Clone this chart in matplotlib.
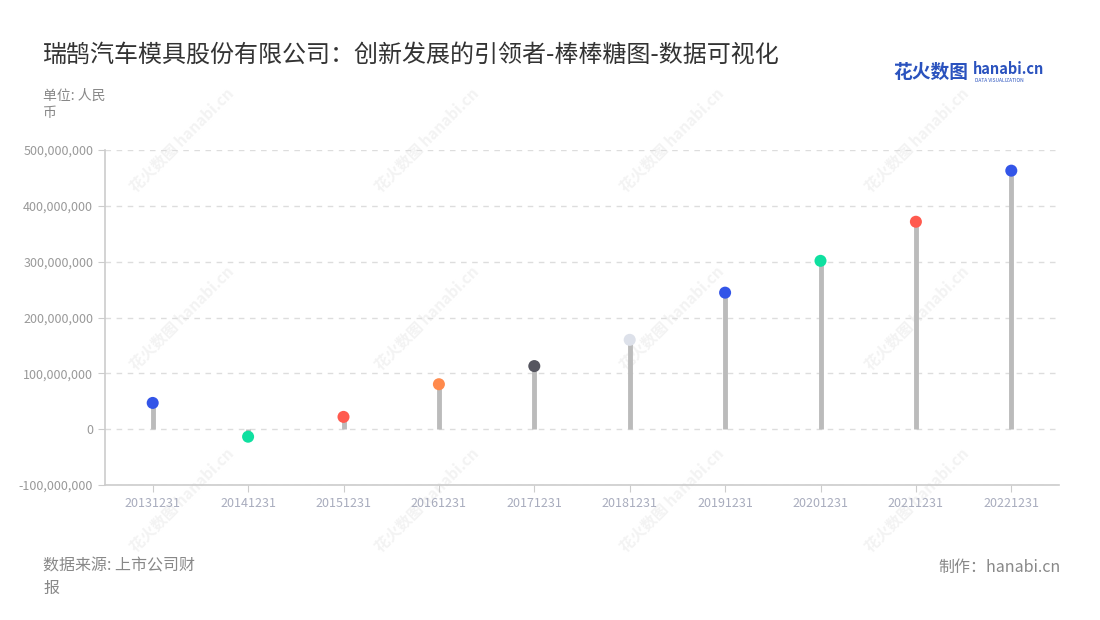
import matplotlib
matplotlib.use("Agg")
import matplotlib.pyplot as plt
from matplotlib.ticker import FuncFormatter, MultipleLocator

plt.rcParams['font.family'] = ['Noto Sans CJK SC', 'DejaVu Sans']

dates = ['20131231', '20141231', '20151231', '20161231', '20171231',
         '20181231', '20191231', '20201231', '20211231', '20221231']
values = [47.0e6, -13.5e6, 22.0e6, 80.5e6, 113.0e6,
          160.0e6, 244.5e6, 301.5e6, 371.5e6, 463.0e6]
dot_colors = ['#3355e8', '#0fe0a0', '#ff5a4e', '#ff8a4c', '#55555f',
              '#dde1ea', '#3355e8', '#0fe0a0', '#ff5a4e', '#3355e8']


def draw_watermarks(fig):
    xs = [182, 427, 672, 917]
    ys = [140, 318, 500]
    for cx in xs:
        for cy in ys:
            fig.text(cx / 1100, 1 - cy / 620, '花火数图 hanabi.cn',
                     rotation=45, ha='center', va='center', fontsize=11,
                     color='#f3f3f3', fontweight='bold', zorder=-5)


def main():
    fig = plt.figure(figsize=(11, 6.2), dpi=100)
    draw_watermarks(fig)

    ax = fig.add_axes([105 / 1100, 1 - 485 / 620, 954 / 1100, 335 / 620])
    ax.patch.set_alpha(0)
    ax.set_zorder(1)
    x = list(range(len(dates)))

    ax.vlines(x, 0, values, color='#bbbbbb', linewidth=3.5, zorder=2)
    ax.scatter(x, values, s=75, c=dot_colors, zorder=3, edgecolors='none')

    ax.set_xlim(-0.5, len(dates) - 0.5)
    ax.set_ylim(-100e6, 500e6)
    ax.yaxis.set_major_locator(MultipleLocator(100e6))
    ax.yaxis.set_major_formatter(FuncFormatter(lambda v, p: f'{int(v):,}'))
    ax.set_xticks(x)
    ax.set_xticklabels(dates)

    ax.grid(axis='y', color='#dddddd', linestyle=(0, (4, 4)), linewidth=1)
    ax.set_axisbelow(True)
    for side in ['top', 'right']:
        ax.spines[side].set_visible(False)
    for side in ['left', 'bottom']:
        ax.spines[side].set_color('#cccccc')
        ax.spines[side].set_linewidth(1.2)
    ax.tick_params(axis='y', colors='#cccccc', labelcolor='#999999',
                   labelsize=9, length=5)
    ax.tick_params(axis='x', colors='#cccccc', labelcolor='#a8acbd',
                   labelsize=9, length=5)

    fig.text(43 / 1100, 1 - 55 / 620,
             '瑞鹄汽车模具股份有限公司：创新发展的引领者-棒棒糖图-数据可视化',
             fontsize=17.3, color='#333333', va='center', ha='left')
    fig.text(43 / 1100, 1 - 104 / 620, '单位: 人民\n币', fontsize=10,
             color='#888888', va='center', ha='left', linespacing=1.3)

    fig.text(893 / 1100, 1 - 72 / 620, '花火数图', fontsize=13.5,
             color='#2a52be', fontweight='bold', va='center', ha='left')
    fig.text(973 / 1100, 1 - 69 / 620, 'hanabi.cn', fontsize=10.5,
             color='#2a52be', fontweight='bold', va='center', ha='left')
    fig.text(975 / 1100, 1 - 80 / 620, 'DATA VISUALIZATION', fontsize=3.5,
             color='#2a52be', va='center', ha='left')

    fig.text(43 / 1100, 1 - 577 / 620, '数据来源: 上市公司财\n报', fontsize=11.5,
             color='#888888', va='center', ha='left', linespacing=1.4)
    fig.text(1061 / 1100, 1 - 567 / 620, '制作：hanabi.cn', fontsize=11.5,
             color='#888888', va='center', ha='right')

    fig.savefig('out.png', dpi=100)


if __name__ == "__main__":
    main()
